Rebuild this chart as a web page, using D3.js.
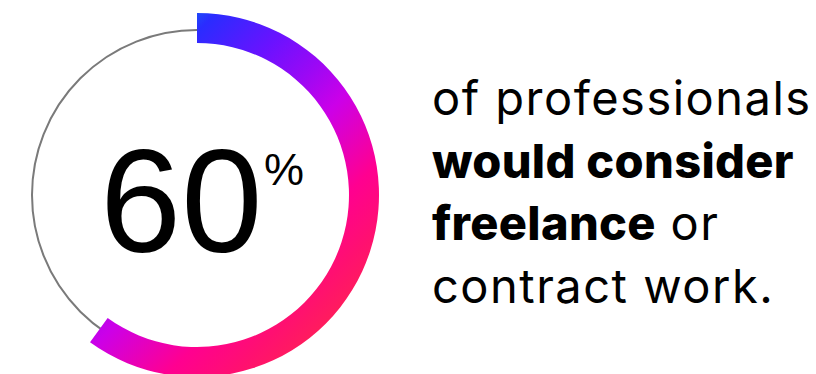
<!DOCTYPE html>
<html>
<head>
<meta charset="utf-8">
<script src="https://cdn.jsdelivr.net/npm/d3@7"></script>
<style>
  html, body { margin: 0; padding: 0; background: #fff; }
  svg { display: block; }
</style>
</head>
<body>
<div id="graph"></div>
<script>
'use strict';

let WIDTH = 816;
let HEIGHT = 374;

// data
let SHARE = [60];
let TOTAL = 100;
let BIG_LABEL = ['60', '%'];
let LINES = [
    [{ text: 'of professionals', bold: false }],
    [{ text: 'would consider', bold: true }],
    [{ text: 'freelance', bold: true }, { text: ' or', bold: false }],
    [{ text: 'contract work.', bold: false }],
];
let GRAD_OFFSETS = [0, 0.06, 0.24, 0.375, 0.5, 0.71, 0.85, 1];
let GRAD_COLORS = ['#1a58f5', '#2a2cff', '#6a12ff', '#9a08f5', '#cc00e8', '#ff0090', '#ff1070', '#ff2550'];

let CX = 197;
let CY = 195;
let R_OUT = 182;
let R_IN = 152;

function visualize () {
    let svg = d3.select('#graph')
        .append('svg')
        .attr('width', WIDTH)
        .attr('height', HEIGHT);

    let g = svg.append('g')
        .attr('transform', `translate(${CX}, ${CY})`);

    // gradient runs diagonally, coords relative to ring centre
    let grad = svg.append('defs')
        .append('linearGradient')
        .attr('id', 'ring-grad')
        .attr('gradientUnits', 'userSpaceOnUse')
        .attr('x1', 100 - CX).attr('y1', 100 - CY)
        .attr('x2', 340 - CX).attr('y2', 340 - CY);

    grad.selectAll('stop')
        .data(GRAD_OFFSETS)
        .enter()
        .append('stop')
        .attr('offset', d => d)
        .attr('stop-color', (d, i) => GRAD_COLORS[i]);

    g.append('circle')
        .attr('r', (R_OUT + R_IN) / 2 - 2)
        .attr('fill', 'none')
        .attr('stroke', '#7a7a7a')
        .attr('stroke-width', 2);

    let angle = d3.scaleLinear()
        .domain([0, TOTAL])
        .range([0, 2 * Math.PI]);

    let arc = d3.arc()
        .innerRadius(R_IN)
        .outerRadius(R_OUT)
        .startAngle(0)
        .endAngle(d => angle(d));

    g.selectAll('.ring')
        .data(SHARE)
        .enter()
        .append('path')
        .attr('class', 'ring')
        .attr('d', arc)
        .attr('fill', 'url(#ring-grad)');

    let big = svg.append('text')
        .attr('x', 100)
        .attr('y', 252)
        .style('font-family', '"Liberation Sans", Arial, sans-serif')
        .style('fill', '#000');

    big.append('tspan')
        .style('font-size', '146px')
        .text(BIG_LABEL[0]);

    big.append('tspan')
        .attr('x', 264)
        .attr('y', 185)
        .style('font-size', '45px')
        .text(BIG_LABEL[1]);

    let lineY = d3.scaleLinear()
        .domain([0, LINES.length - 1])
        .range([115, 303]);

    let lines = svg.selectAll('.line')
        .data(LINES)
        .enter()
        .append('text')
        .attr('class', 'line')
        .attr('x', 432)
        .attr('y', (d, i) => lineY(i))
        .style('font-family', 'Inter, sans-serif')
        .style('font-size', '47px')
        .style('fill', '#000');

    lines.selectAll('tspan')
        .data(d => d)
        .enter()
        .append('tspan')
        .style('font-weight', d => d.bold ? 800 : 400)
        .style('letter-spacing', d => d.bold ? '0.3px' : '1.5px')
        .attr('xml:space', 'preserve')
        .text(d => d.text);
}

visualize();
</script>
</body>
</html>
